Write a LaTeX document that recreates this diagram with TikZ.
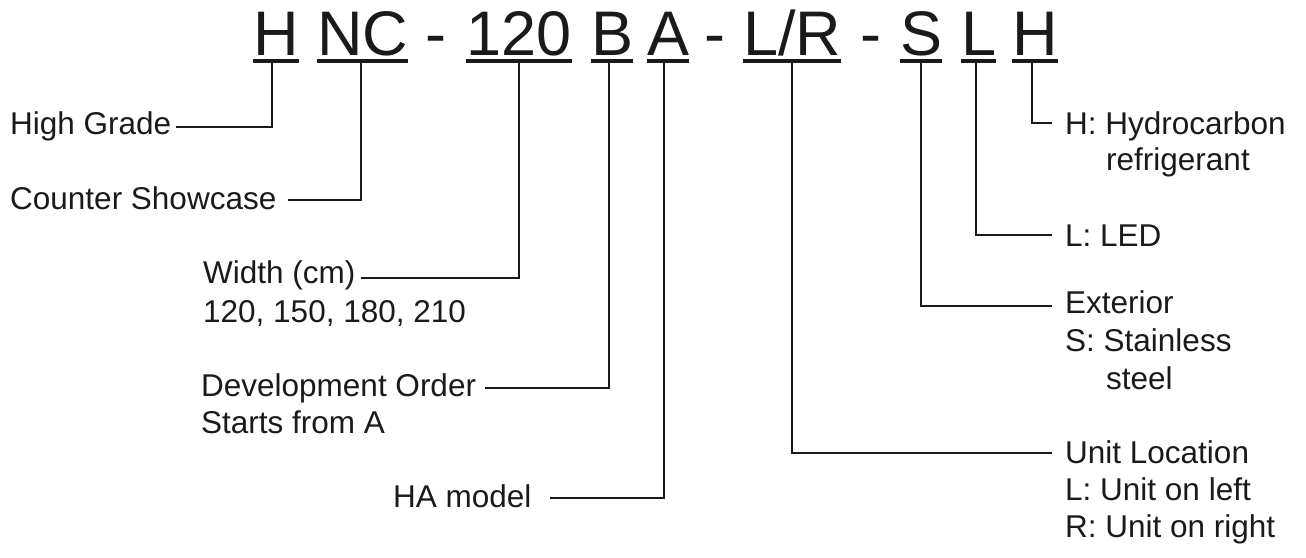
\documentclass[tikz,border=0pt]{standalone}
\usepackage{fontspec}
\setmainfont{Liberation Sans}
\usetikzlibrary{positioning}
\definecolor{codeink}{HTML}{1A1A1A}

\begin{document}
\begin{tikzpicture}[x=1pt,y=-1pt,
  code/.style={inner sep=0pt,anchor=base west,text depth=0pt,text=codeink,
               font=\fontsize{63}{70}\selectfont},
  lbl/.style={inner sep=0pt,anchor=base west,text=codeink,
               font=\fontsize{31.5}{37.5}\selectfont},
  uline/.style={line width=4pt,codeink},
  lead/.style={line width=2pt,codeink}]
  \useasboundingbox (0,0) rectangle (1306,557);
  % model code
  \node[code] (hg) at (253,55) {H};
  \node[code] (nc) at (317,55) {NC};
  \node[code] (d1) at (425,55) {-};
  \node[code] (wd) at (466,55) {120};
  \node[code] (dv) at (591,55) {B};
  \node[code] (ha) at (647,55) {A};
  \node[code] (d2) at (704,55) {-};
  \node[code] (ul) at (743,55) {L/R};
  \node[code] (d3) at (860,55) {-};
  \node[code] (ex) at (900,55) {S};
  \node[code] (ld) at (961,55) {L};
  \node[code] (hc) at (1012,55) {H};
  \foreach \p in {hg,nc,wd,dv,ha,ul,ex,ld,hc}
    \draw[uline] ([yshift=-6pt]\p.south west) -- ([yshift=-6pt]\p.south east);
  % left labels
  \node[lbl] (lhg) at (10,134) {High Grade};
  \node[lbl] (lnc) at (10,209) {Counter Showcase};
  \node[lbl] (lwd) at (203,283) {Width (cm)};
  \node[lbl] (lwd2) at ([yshift=-39pt]lwd.base west) {120, 150, 180, 210};
  \node[lbl] (ldv) at (201,396) {Development Order};
  \node[lbl] (ldv2) at ([yshift=-37pt]ldv.base west) {Starts from A};
  \node[lbl] (lha) at (393,507) {HA model};
  % right labels
  \node[lbl] (lhc) at (1065,134) {H: Hydrocarbon};
  \node[lbl] (lhc2) at ([xshift=41pt,yshift=-36pt]lhc.base west) {refrigerant};
  \node[lbl] (lld) at (1065,246) {L: LED};
  \node[lbl] (lex) at (1065,313) {Exterior};
  \node[lbl] (lex2) at ([yshift=-38pt]lex.base west) {S: Stainless};
  \node[lbl] (lex3) at ([xshift=41pt,yshift=-38pt]lex2.base west) {steel};
  \node[lbl] (lul) at (1065,463) {Unit Location};
  \node[lbl] (lul2) at ([yshift=-37pt]lul.base west) {L: Unit on left};
  \node[lbl] (lul3) at ([yshift=-37pt]lul2.base west) {R: Unit on right};
  % leaders
  \draw[lead] ([xshift=-4pt,yshift=-6pt]hg.south) |- ([xshift=5pt,yshift=7pt]lhg.base east);
  \draw[lead] ([xshift=-2pt,yshift=-6pt]nc.south) |- ([xshift=11pt,yshift=9pt]lnc.base east);
  \draw[lead] ([yshift=-6pt]wd.south) |- ([xshift=5pt,yshift=5pt]lwd.base east);
  \draw[lead] ([xshift=-3pt,yshift=-6pt]dv.south) |- ([xshift=9pt,yshift=8pt]ldv.base east);
  \draw[lead] ([xshift=-4pt,yshift=-6pt]ha.south) |- ([xshift=18pt,yshift=9pt]lha.base east);
  \draw[lead] ([xshift=-3pt,yshift=-6pt]hc.south) |- ([xshift=-13pt,yshift=11pt]lhc.base west);
  \draw[lead] ([xshift=-3pt,yshift=-6pt]ld.south) |- ([xshift=-13pt,yshift=11pt]lld.base west);
  \draw[lead] ([yshift=-6pt]ex.south) |- ([xshift=-13pt,yshift=7pt]lex.base west);
  \draw[lead] ([yshift=-6pt]ul.south) |- ([xshift=-13pt,yshift=10pt]lul.base west);
\end{tikzpicture}
\end{document}
